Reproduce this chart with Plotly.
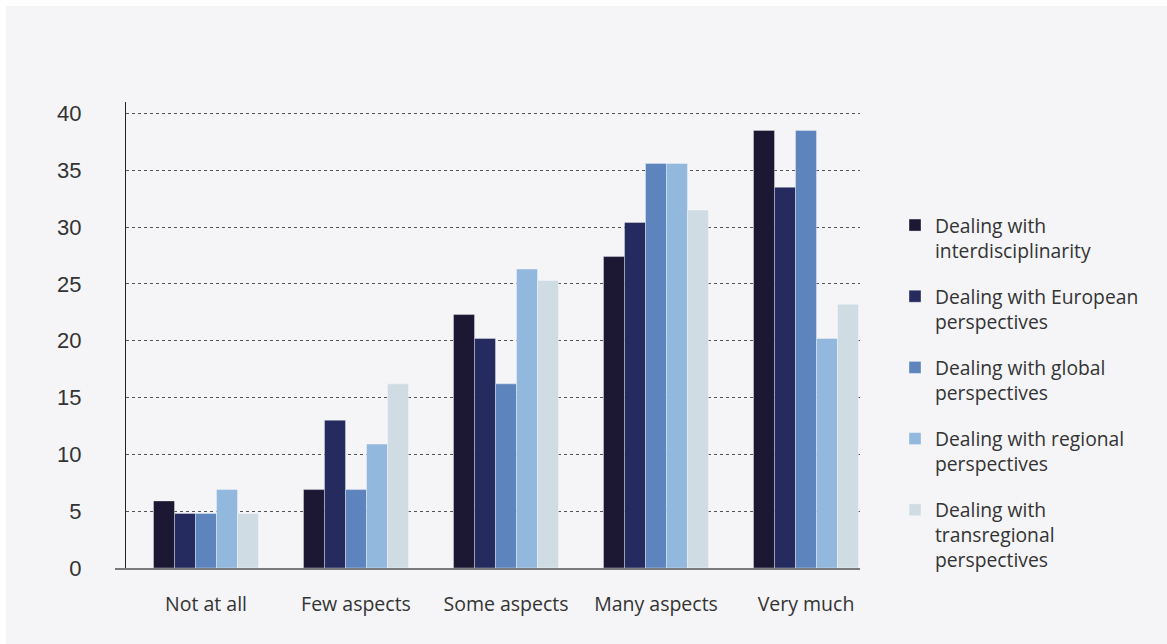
import plotly.graph_objects as go

categories = ["Not at all", "Few aspects", "Some aspects", "Many aspects", "Very much"]
series_names = [
    "Dealing with<br>interdisciplinarity",
    "Dealing with European<br>perspectives",
    "Dealing with global<br>perspectives",
    "Dealing with regional<br>perspectives",
    "Dealing with<br>transregional<br>perspectives",
]
interdisciplinarity = [5.9, 6.9, 22.3, 27.4, 38.5]
european = [4.8, 13.0, 20.2, 30.4, 33.5]
global_persp = [4.8, 6.9, 16.2, 35.6, 38.5]
regional = [6.9, 10.9, 26.3, 35.6, 20.2]
transregional = [4.8, 16.2, 25.3, 31.5, 23.2]
y_ticks = [0, 5, 10, 15, 20, 25, 30, 35, 40]

colors = ["#1c1733", "#252b5f", "#5d84bd", "#93b8de", "#d0dce3"]
all_series = [interdisciplinarity, european, global_persp, regional, transregional]

W, H = 1167, 644
L, R, T, B = 126, 860, 102, 568
pw, ph = R - L, B - T

fig = go.Figure()
for i, (name, vals) in enumerate(zip(series_names, all_series)):
    fig.add_trace(go.Bar(
        x=categories, y=vals, name=name,
        legendgroup=f"g{i}",
        marker=dict(color=colors[i], line=dict(color="rgba(255,255,255,0.35)", width=1)),
    ))

def px_x(p):
    return (p - L) / pw

def px_y(p):
    return (B - p) / ph

shapes = [
    dict(type="rect", xref="paper", yref="paper", layer="below",
         x0=px_x(6), x1=px_x(W + 5), y0=px_y(H + 5), y1=px_y(6),
         fillcolor="#f5f5f7", line=dict(width=0)),
    dict(type="line", xref="paper", yref="paper",
         x0=px_x(115), x1=px_x(860), y0=px_y(569), y1=px_y(569),
         line=dict(color="#7a7a7a", width=2)),
]

fig.update_layout(
    width=W, height=H,
    margin=dict(l=L, r=W - R, t=T, b=H - B, autoexpand=False),
    paper_bgcolor="#ffffff",
    plot_bgcolor="rgba(0,0,0,0)",
    barmode="group", bargap=0.3, bargroupgap=0,
    font=dict(family="'Open Sans', 'Noto Sans', sans-serif", color="#333333", size=18),
    showlegend=True,
    legend=dict(
        x=px_x(895), y=px_y(206), xanchor="left", yanchor="top",
        xref="paper", yref="paper",
        font=dict(size=19.3, color="#333333"),
        tracegroupgap=18, valign="top",
        bgcolor="rgba(0,0,0,0)",
    ),
    shapes=shapes,
    xaxis=dict(
        range=[-0.5333, -0.5333 + pw / 150.0],
        showline=False, showgrid=False, zeroline=False,
        ticks="", ticklabelstandoff=22,
        tickfont=dict(size=19.5, color="#333333"),
    ),
    yaxis=dict(
        range=[0, 41.0], tickvals=y_ticks,
        showline=True, linecolor="#222222", linewidth=1,
        showgrid=True, gridcolor="#555555", griddash="dot", gridwidth=1,
        zeroline=False, ticks="", ticklabelstandoff=39,
        tickfont=dict(family="'Liberation Sans', Arial, sans-serif", size=22, color="#333333"),
    ),
)

fig.write_html("out.html")
